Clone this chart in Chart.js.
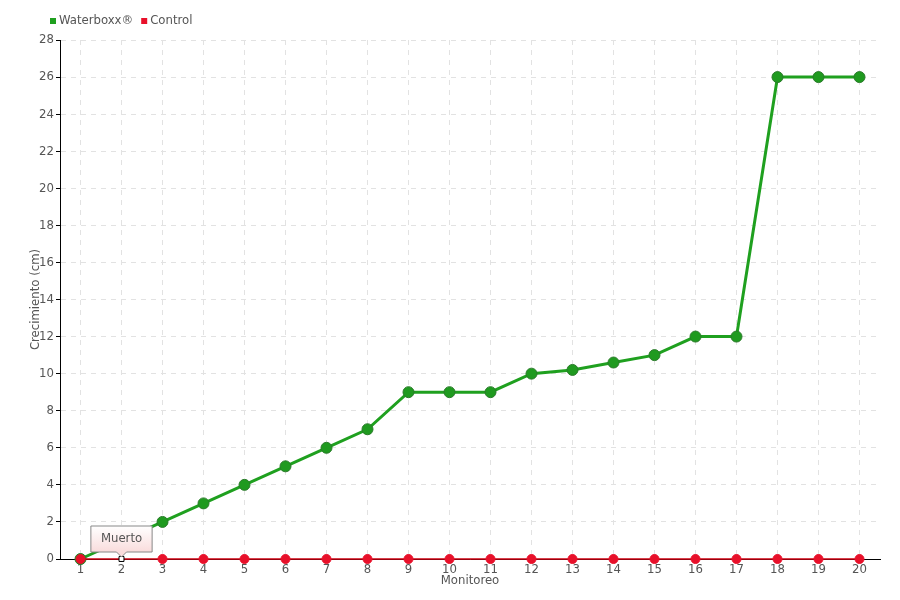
<!DOCTYPE html>
<html>
<head>
<meta charset="utf-8">
<script src="https://cdn.jsdelivr.net/npm/chart.js@4.4.0/dist/chart.umd.min.js"></script>
<style>
  html, body { margin: 0; padding: 0; background: #fff; }
  #wrap { width: 900px; height: 600px; position: relative; }
</style>
</head>
<body>
<div id="wrap"><canvas id="growthChart"></canvas></div>
<script>
// Data
const monitoreo = ['1', '2', '3', '4', '5', '6', '7', '8', '9', '10', '11', '12', '13', '14', '15', '16', '17', '18', '19', '20'];
const waterboxx = [0, 1, 2, 3, 4, 5, 6, 7, 9, 9, 9, 10, 10.2, 10.6, 11, 12, 12, 26, 26, 26];
const control = [0, 0, 0, 0, 0, 0, 0, 0, 0, 0, 0, 0, 0, 0, 0, 0, 0, 0, 0, 0];
const controlNotes = ['', 'Muerto', '', '', '', '', '', '', '', '', '', '', '', '', '', '', '', '', '', ''];

const FONT = "'DejaVu Sans Condensed', 'Liberation Sans Narrow', sans-serif";
const TEXT = '#555';

const ctx = document.getElementById('growthChart').getContext('2d');

// marked point (the one with a note) drawn as a small white square
const ctrlStyle = controlNotes.map(n => n ? 'rect' : 'circle');
const ctrlFill = controlNotes.map(n => n ? '#fff' : '#e8102a');
const ctrlBorder = controlNotes.map(n => n ? '#000' : '#e8102a');
const ctrlRadius = controlNotes.map(n => n ? 3.5 : 4.5);

// note bubble above the marked point
const notePlugin = {
  id: 'notes',
  afterDatasetsDraw(chart) {
    const meta = chart.getDatasetMeta(1);
    const c = chart.ctx;
    controlNotes.forEach((note, i) => {
      if (!note) return;
      const pt = meta.data[i];
      c.save();
      c.font = '13px ' + FONT;
      const w = c.measureText(note).width + 20;
      const h = 26;
      const x0 = pt.x - w / 2;
      const y1 = pt.y - 7;
      const y0 = y1 - h;
      const g = c.createLinearGradient(0, y0, 0, y1);
      g.addColorStop(0, '#ffffff');
      g.addColorStop(1, '#f9dcdc');
      c.beginPath();
      c.moveTo(x0, y0);
      c.lineTo(x0 + w, y0);
      c.lineTo(x0 + w, y1);
      c.lineTo(pt.x + 5, y1);
      c.lineTo(pt.x, y1 + 5);
      c.lineTo(pt.x - 5, y1);
      c.lineTo(x0, y1);
      c.closePath();
      c.fillStyle = g;
      c.fill();
      c.strokeStyle = '#888';
      c.lineWidth = 1;
      c.stroke();
      c.fillStyle = TEXT;
      c.textAlign = 'center';
      c.textBaseline = 'middle';
      c.fillText(note, pt.x, y0 + h / 2);
      c.restore();
    });
  }
};

// small legend in the top-left corner
const legendPlugin = {
  id: 'topLegend',
  afterDraw(chart) {
    const c = chart.ctx;
    c.save();
    c.font = '13px ' + FONT;
    c.textBaseline = 'middle';
    let x = 50;
    const y = 21;
    chart.data.datasets.forEach(ds => {
      c.fillStyle = ds.backgroundColor;
      c.fillRect(x, y - 3, 6, 6);
      x += 9;
      c.fillStyle = TEXT;
      c.fillText(ds.label, x, y);
      x += c.measureText(ds.label).width + 8;
    });
    c.restore();
  }
};

new Chart(ctx, {
  type: 'line',
  data: {
    labels: monitoreo,
    datasets: [{
      label: 'Waterboxx®',
      data: waterboxx,
      borderColor: '#1fa01f',
      backgroundColor: '#1fa01f',
      borderWidth: 3,
      pointRadius: 5.5,
      pointBackgroundColor: '#1f9a1f',
      pointBorderColor: '#2a7a2a',
      pointBorderWidth: 1,
      tension: 0,
      clip: false,
      order: 1
    }, {
      label: 'Control',
      data: control,
      borderColor: '#cc0011',
      backgroundColor: '#e8102a',
      borderWidth: 1.5,
      pointStyle: ctrlStyle,
      pointRadius: ctrlRadius,
      pointBackgroundColor: ctrlFill,
      pointBorderColor: ctrlBorder,
      pointBorderWidth: 1,
      tension: 0,
      clip: false,
      order: 0
    }]
  },
  options: {
    responsive: true,
    maintainAspectRatio: false,
    animation: false,
    layout: { padding: { left: 28, right: 20, top: 40, bottom: 12 } },
    plugins: {
      legend: { display: false },
      tooltip: { enabled: false }
    },
    scales: {
      x: {
        offset: true,
        title: {
          display: true,
          text: 'Monitoreo',
          color: TEXT,
          font: { family: FONT, size: 13 },
          padding: 0
        },
        grid: {
          color: '#e2e2e2',
          tickColor: '#000',
          tickLength: 3,
          offset: false
        },
        border: { color: '#000', width: 1, dash: [5, 5] },
        ticks: {
          color: TEXT,
          font: { family: FONT, size: 13 },
          padding: 0,
          maxRotation: 0,
          autoSkip: false
        },
        afterFit(scale) { scale.height = 29; }
      },
      y: {
        min: 0,
        max: 28,
        title: {
          display: true,
          text: 'Crecimiento (cm)',
          color: TEXT,
          font: { family: FONT, size: 13 },
          padding: 0
        },
        grid: {
          color: '#e2e2e2',
          tickColor: '#000',
          tickLength: 4
        },
        border: { color: '#000', width: 1, dash: [5, 5] },
        ticks: {
          stepSize: 2,
          color: TEXT,
          font: { family: FONT, size: 13 },
          padding: 2
        },
        afterFit(scale) { scale.width = 32; }
      }
    }
  },
  plugins: [notePlugin, legendPlugin]
});
</script>
</body>
</html>
